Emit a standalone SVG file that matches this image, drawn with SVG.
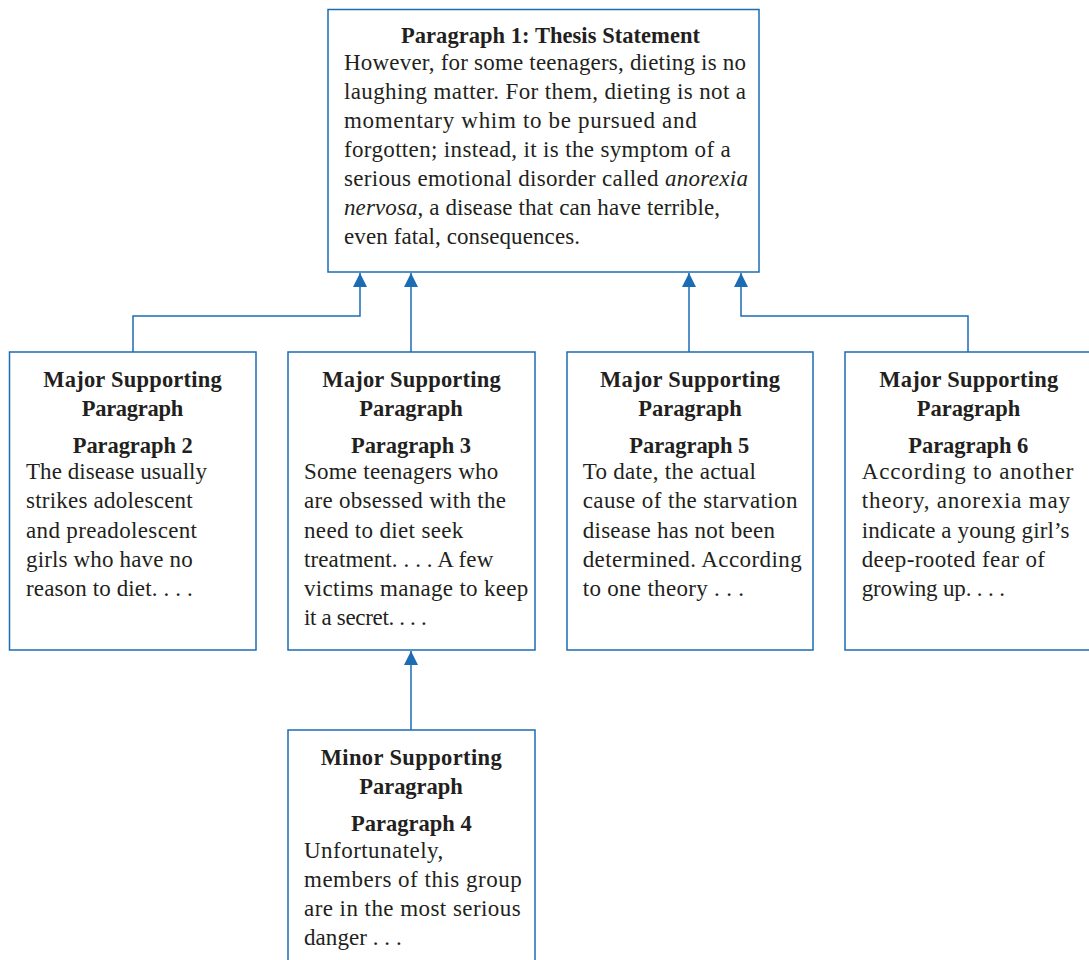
<svg xmlns="http://www.w3.org/2000/svg" width="1089" height="960" viewBox="0 0 1089 960">
  <style>
    .box { fill: #ffffff; stroke: #1b6cb3; stroke-width: 1.5; }
    .link { fill: none; stroke: #1b6cb3; stroke-width: 1.5; }
    .head { font-family: "Liberation Serif", "DejaVu Serif", serif; font-size: 22.5px; font-weight: bold; fill: #231f20; text-anchor: middle; }
    .body { font-family: "Liberation Serif", "DejaVu Serif", serif; font-size: 23px; fill: #231f20; }
    .it { font-style: italic; }
  </style>
  <defs>
    <marker id="arrow" markerUnits="userSpaceOnUse" markerWidth="14" markerHeight="14" viewBox="0 0 14 14" refX="14" refY="7" orient="auto">
      <path d="M0,0 L14,7 L0,14 z" fill="#1b6cb3"/>
    </marker>
  </defs>
  <rect width="1089" height="960" fill="#ffffff"/>

  <!-- connectors: every paragraph points up to the one it supports -->
  <g id="connectors">
    <path class="link" d="M133,352 V316 H360 V273" marker-end="url(#arrow)"/>
    <path class="link" d="M411,352 V273" marker-end="url(#arrow)"/>
    <path class="link" d="M689,352 V273" marker-end="url(#arrow)"/>
    <path class="link" d="M968,352 V316 H741 V273" marker-end="url(#arrow)"/>
    <path class="link" d="M411,730 V651" marker-end="url(#arrow)"/>
  </g>

  <!-- thesis statement -->
  <g id="p1">
    <rect class="box" x="328" y="9.5" width="431" height="262.5"/>
    <text class="head" x="550.5" y="43" textLength="299">Paragraph 1: Thesis Statement</text>
    <text class="body" x="344" y="70" textLength="402">However, for some teenagers, dieting is no</text>
    <text class="body" x="344" y="99" textLength="402">laughing matter. For them, dieting is not a</text>
    <text class="body" x="344" y="128" textLength="352.7">momentary whim to be pursued and</text>
    <text class="body" x="344" y="157" textLength="386.7">forgotten; instead, it is the symptom of a</text>
    <text class="body" x="344" y="186" textLength="404">serious emotional disorder called <tspan class="it">anorexia</tspan></text>
    <text class="body" x="344" y="215" textLength="376"><tspan class="it">nervosa</tspan>, a disease that can have terrible,</text>
    <text class="body" x="344" y="244" textLength="236">even fatal, consequences.</text>
  </g>

  <g id="p2">
    <rect class="box" x="9.5" y="352" width="246.5" height="298"/>
    <text class="head" x="132.5" y="387" textLength="178.4">Major Supporting</text>
    <text class="head" x="132.5" y="415.5" textLength="101.7">Paragraph</text>
    <text class="head" x="132.7" y="452.5" textLength="120">Paragraph 2</text>
    <text class="body" x="26" y="479" textLength="181">The disease usually</text>
    <text class="body" x="26" y="508" textLength="166.7">strikes adolescent</text>
    <text class="body" x="26" y="537.5" textLength="171">and preadolescent</text>
    <text class="body" x="26" y="566.5" textLength="166.7">girls who have no</text>
    <text class="body" x="26" y="595.5" textLength="166.7">reason to diet. . . .</text>
  </g>

  <g id="p3">
    <rect class="box" x="288" y="352" width="247" height="298"/>
    <text class="head" x="411.5" y="387" textLength="178.4">Major Supporting</text>
    <text class="head" x="411" y="415.5" textLength="103.4">Paragraph</text>
    <text class="head" x="411" y="452.5" textLength="120">Paragraph 3</text>
    <text class="body" x="304" y="479" textLength="194.3">Some teenagers who</text>
    <text class="body" x="304" y="508" textLength="202">are obsessed with the</text>
    <text class="body" x="304" y="537.5" textLength="159.3">need to diet seek</text>
    <text class="body" x="304" y="566.5" textLength="189.3">treatment. . . . A few</text>
    <text class="body" x="304" y="595.5" textLength="224.3">victims manage to keep</text>
    <text class="body" x="304" y="624.5" textLength="122.7">it a secret. . . .</text>
  </g>

  <g id="p5">
    <rect class="box" x="567" y="352" width="246" height="298"/>
    <text class="head" x="690" y="387" textLength="180">Major Supporting</text>
    <text class="head" x="690" y="415.5" textLength="103.4">Paragraph</text>
    <text class="head" x="689.3" y="452.5" textLength="120">Paragraph 5</text>
    <text class="body" x="582.7" y="479" textLength="173.3">To date, the actual</text>
    <text class="body" x="582.7" y="508" textLength="214.7">cause of the starvation</text>
    <text class="body" x="582.7" y="537.5" textLength="192.3">disease has not been</text>
    <text class="body" x="582.7" y="566.5" textLength="219">determined. According</text>
    <text class="body" x="582.7" y="595.5" textLength="161.3">to one theory . . .</text>
  </g>

  <g id="p6">
    <rect class="box" x="845" y="352" width="248" height="298"/>
    <text class="head" x="968.8" y="387" textLength="179">Major Supporting</text>
    <text class="head" x="968.5" y="415.5" textLength="103.4">Paragraph</text>
    <text class="head" x="968.3" y="452.5" textLength="120">Paragraph 6</text>
    <text class="body" x="861.7" y="479" textLength="211.7">According to another</text>
    <text class="body" x="861.7" y="508" textLength="208.3">theory, anorexia may</text>
    <text class="body" x="861.7" y="537.5" textLength="207.7">indicate a young girl’s</text>
    <text class="body" x="861.7" y="566.5" textLength="183.3">deep-rooted fear of</text>
    <text class="body" x="861.7" y="595.5" textLength="143.3">growing up. . . .</text>
  </g>

  <g id="p4">
    <rect class="box" x="288" y="730" width="247" height="240"/>
    <text class="head" x="411.2" y="765" textLength="181">Minor Supporting</text>
    <text class="head" x="411" y="793.5" textLength="103.4">Paragraph</text>
    <text class="head" x="411.3" y="830.5" textLength="120.7">Paragraph 4</text>
    <text class="body" x="304" y="857.5" textLength="139.3">Unfortunately,</text>
    <text class="body" x="304" y="886.5" textLength="217.7">members of this group</text>
    <text class="body" x="304" y="916" textLength="216.7">are in the most serious</text>
    <text class="body" x="304" y="945" textLength="97.7">danger . . .</text>
  </g>
</svg>
